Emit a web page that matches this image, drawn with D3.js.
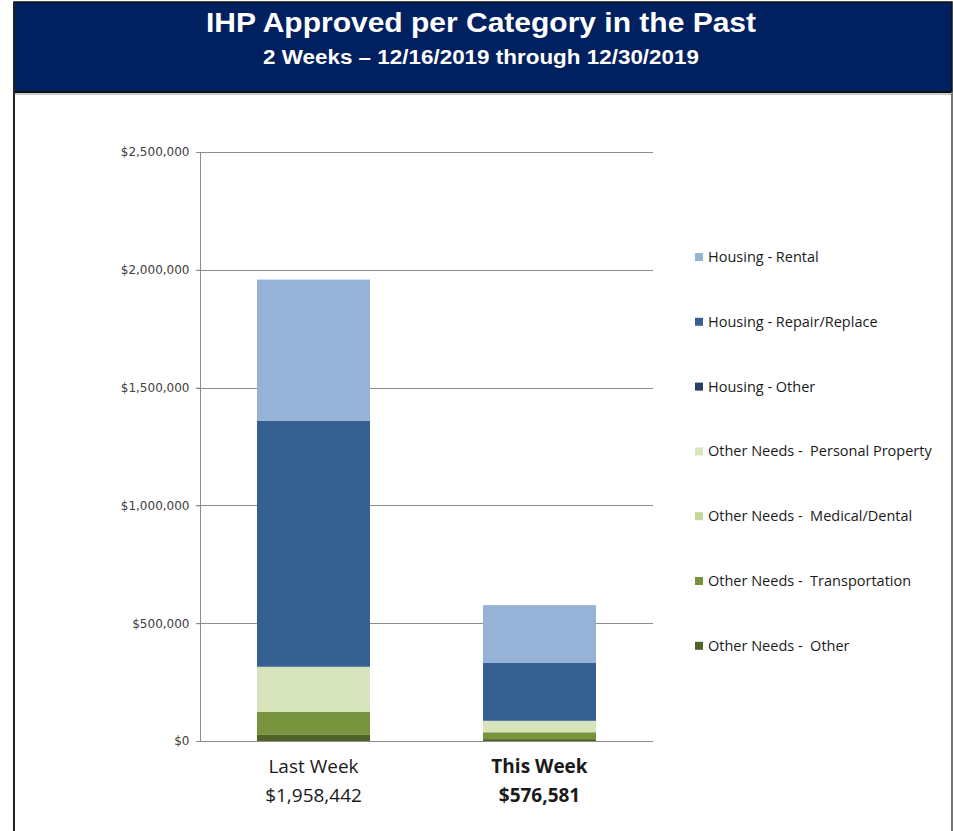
<!DOCTYPE html>
<html>
<head>
<meta charset="utf-8">
<script src="https://cdn.jsdelivr.net/npm/d3@7"></script>
<style>
  html, body { margin: 0; padding: 0; background: #fff; }
  svg { display: block; }
</style>
</head>
<body>
<svg id="chart" width="953" height="831"></svg>
<script>
const categories = ["Last Week", "This Week"];
const categoryTotals = ["$1,958,442", "$576,581"];
const seriesNames = [
  "Other Needs -  Other",
  "Other Needs -  Transportation",
  "Other Needs -  Medical/Dental",
  "Other Needs -  Personal Property",
  "Housing - Other",
  "Housing - Repair/Replace",
  "Housing - Rental"
];
const otherNeedsOther = [26000, 8000];
const otherNeedsTransportation = [97000, 29000];
const otherNeedsMedical = [3000, 1000];
const otherNeedsPersonal = [188000, 47000];
const housingOther = [2000, 1000];
const housingRepair = [1044000, 245000];
const housingRental = [598442, 245581];
const seriesColors = ["#4f6228", "#77933c", "#c4d79b", "#d8e4bc", "#244062", "#366092", "#95b3d7"];
const yTicks = [0, 500000, 1000000, 1500000, 2000000, 2500000];
const legendOrder = [6, 5, 4, 3, 2, 1, 0];

const seriesValues = [otherNeedsOther, otherNeedsTransportation, otherNeedsMedical,
  otherNeedsPersonal, housingOther, housingRepair, housingRental];
const rows = categories.map((c, i) => {
  const r = { cat: c };
  seriesNames.forEach((s, j) => r[s] = seriesValues[j][i]);
  return r;
});

const svg = d3.select("#chart");

// Banner
svg.append("rect").attr("x", 14).attr("y", 2).attr("width", 938).attr("height", 90)
  .attr("fill", "#002060").attr("stroke", "#111").attr("stroke-width", 1.5);
svg.append("line").attr("x1", 14).attr("x2", 952).attr("y1", 92).attr("y2", 92)
  .attr("stroke", "#111").attr("stroke-width", 2);
svg.append("line").attr("x1", 15).attr("x2", 952).attr("y1", 94).attr("y2", 94)
  .attr("stroke", "#999").attr("stroke-width", 1);
// Left border
svg.append("line").attr("x1", 14).attr("x2", 14).attr("y1", 2).attr("y2", 831)
  .attr("stroke", "#222").attr("stroke-width", 2);
// Right border
svg.append("line").attr("x1", 952).attr("x2", 952).attr("y1", 92).attr("y2", 831)
  .attr("stroke", "#777").attr("stroke-width", 2);

svg.append("text").attr("x", 481).attr("y", 32).attr("text-anchor", "middle")
  .attr("fill", "#fff").attr("font-family", "Liberation Sans Narrow, Liberation Sans, Arial, sans-serif")
  .attr("font-weight", "bold").attr("font-size", 28).attr("textLength", 550)
  .attr("lengthAdjust", "spacingAndGlyphs")
  .text("IHP Approved per Category in the Past");
svg.append("text").attr("x", 481).attr("y", 64).attr("text-anchor", "middle")
  .attr("fill", "#fff").attr("font-family", "Liberation Sans Narrow, Liberation Sans, Arial, sans-serif")
  .attr("font-weight", "bold").attr("font-size", 20).attr("textLength", 436)
  .attr("lengthAdjust", "spacingAndGlyphs")
  .text("2 Weeks \u2013 12/16/2019 through 12/30/2019");

// Scales
const y = d3.scaleLinear().domain([0, 2500000]).range([741, 152]);
const barW = 113;
const xc = d3.scalePoint().domain(categories).range([313.5, 539.5]);

// Gridlines
const grid = svg.append("g");
grid.selectAll("line").data(yTicks).join("line")
  .attr("x1", 196).attr("x2", 653)
  .attr("y1", d => Math.round(y(d)) + 0.5).attr("y2", d => Math.round(y(d)) + 0.5)
  .attr("stroke", "#8c8c8c").attr("stroke-width", 1);

// Y axis
const yAxis = svg.append("g").attr("transform", "translate(200.5,0)")
  .call(d3.axisLeft(y).tickValues(yTicks).tickSize(4).tickPadding(7)
    .tickFormat(d => "$" + d3.format(",")(d)));
yAxis.select(".domain").attr("stroke", "#8c8c8c").attr("d", `M0,${y(0)}V${y(2500000)}`);
yAxis.selectAll(".tick line").attr("stroke", "#8c8c8c");
yAxis.selectAll(".tick text").attr("font-family", "DejaVu Sans, Verdana, sans-serif")
  .attr("font-size", 12).attr("fill", "#404040");

// Stacked bars
const stack = d3.stack().keys(seriesNames)(rows);
svg.append("g").selectAll("g").data(stack).join("g")
  .attr("fill", (d, i) => seriesColors[i])
  .selectAll("rect").data(d => d).join("rect")
  .attr("x", d => xc(d.data.cat) - barW / 2)
  .attr("width", barW)
  .attr("y", d => y(d[1]))
  .attr("height", d => y(d[0]) - y(d[1]));

// Baseline over bars
svg.append("line").attr("x1", 196).attr("x2", 653).attr("y1", 741.5).attr("y2", 741.5)
  .attr("stroke", "#8c8c8c");

// Category labels
const catG = svg.append("g");
categories.forEach((c, i) => {
  const bold = i === 1 ? "bold" : "normal";
  catG.append("text").attr("x", xc(c)).attr("y", 773).attr("text-anchor", "middle")
    .attr("font-family", "Open Sans, Liberation Sans, sans-serif").attr("font-size", 19)
    .attr("font-weight", bold).attr("fill", "#1a1a1a").text(c);
  catG.append("text").attr("x", xc(c)).attr("y", 802).attr("text-anchor", "middle")
    .attr("font-family", "Open Sans, Liberation Sans, sans-serif").attr("font-size", 19)
    .attr("font-weight", bold).attr("fill", "#1a1a1a").text(categoryTotals[i]);
});

// Legend
const leg = svg.append("g");
legendOrder.forEach((si, k) => {
  const ly = 257 + k * 64.8;
  leg.append("rect").attr("x", 695).attr("y", ly - 4).attr("width", 8).attr("height", 8)
    .attr("fill", seriesColors[si]);
  leg.append("text").attr("x", 708).attr("y", ly + 5)
    .attr("font-family", "Open Sans, Liberation Sans, sans-serif").attr("font-size", 14.5)
    .attr("fill", "#1a1a1a").attr("xml:space", "preserve").style("white-space", "pre")
    .text(seriesNames[si]);
});
</script>
</body>
</html>
